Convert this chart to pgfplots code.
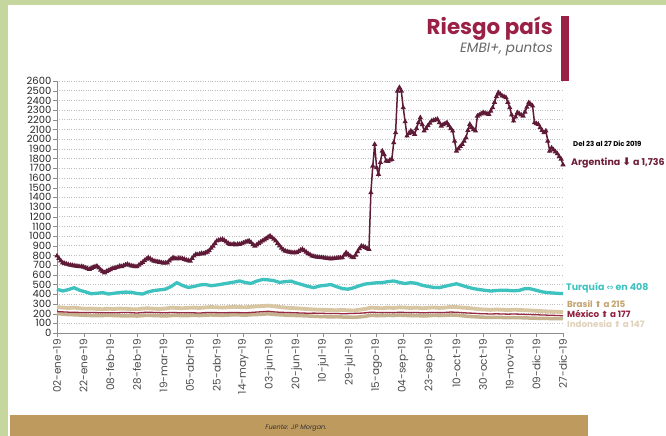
\documentclass[border=0pt]{standalone}
\usepackage{fontspec}
\setmainfont{Poppins}
\newfontfamily\symfont{DejaVu Sans}
\usepackage{pgfplots}
\pgfplotsset{compat=1.18}
\definecolor{bggreen}{HTML}{C5D79E}
\definecolor{tanbar}{HTML}{BE9A5E}
\definecolor{titlered}{HTML}{9A2145}
\definecolor{argc}{HTML}{5E1A36}
\definecolor{turc}{HTML}{3EC2C0}
\definecolor{brac}{HTML}{D8C5A2}
\definecolor{mexc}{HTML}{962A40}
\definecolor{indc}{HTML}{C6B18F}
\definecolor{bralab}{HTML}{C3A36F}
\definecolor{indlab}{HTML}{E0D2BA}
\definecolor{mexlab}{HTML}{8E1F3D}
\definecolor{arglab}{HTML}{6E1D3A}
\begin{document}
\begin{tikzpicture}[x=1bp,y=1bp, lab/.style={anchor=base west, inner sep=0, text height=6.3bp, text depth=1bp, font=\bfseries\fontsize{8.8}{9}\selectfont}]
\useasboundingbox (0,0) rectangle (666,436);
\clip (0,0) rectangle (666,436);
\fill[bggreen] (0,0) rectangle (666,436);
\fill[white] (8,0) rectangle (666,431);
\fill[tanbar] (10,0) rectangle (588,21);
\node[font=\itshape\fontsize{6.5}{7}\selectfont, text=black!80] at (296,8) {Fuente: JP Morgan.};
\fill[titlered] (560.5,355) rectangle (569,420);
\node[anchor=base east, inner sep=0, font=\bfseries\fontsize{21.5}{24}\selectfont, text=titlered] at (553,401) {Riesgo país};
\node[anchor=base east, inner sep=0, font=\itshape\fontsize{13.5}{15}\selectfont, text=black!60] at (553,383) {EMBI+, puntos};
\begin{axis}[
  at={(57bp,103bp)}, anchor=origin,
  scale only axis, width=506bp, height=252bp,
  xmin=0, xmax=266, ymin=0, ymax=2600,
  axis x line*=bottom, axis y line*=left,
  axis line style={-, draw=black!45},
  tick style={draw=black!45},
  tick align=outside, major tick length=4bp,
  ytick={0,100,...,2600},
  xtick={0,14,...,266},
  xticklabels={02-ene-19,22-ene-19,08-feb-19,28-feb-19,19-mar-19,05-abr-19,25-abr-19,14-may-19,03-jun-19,20-jun-19,10-jul-19,29-jul-19,15-ago-19,04-sep-19,23-sep-19,10-oct-19,30-oct-19,19-nov-19,09-dic-19,27-dic-19},
  x tick label style={rotate=90, anchor=east, font=\fontsize{10.5}{11}\selectfont, text=black!70, inner sep=2bp},
  y tick label style={font=\fontsize{10}{10}\selectfont, text=black!85, inner sep=1.5bp},
  /pgf/number format/assume math mode=true,
  /pgf/number format/1000 sep={},
  ymajorgrids, grid style={dotted, draw=black!25, line width=0.6pt},
  clip=false,
]
\addplot[turc, line width=3.3bp] coordinates {
(0,452)(3,433)(6,448)(9,467)(12,440)(15,424)(18,405)(21,410)(24,416)(27,402)(30,410)(33,418)(36,422)(39,420)(42,408)(45,402)(48,425)(51,438)(54,445)(57,452)(60,480)(63,519)(66,490)(69,470)(72,480)(75,495)(78,500)(81,488)(84,495)(87,505)(90,515)(93,525)(96,537)(99,520)(102,512)(105,535)(108,552)(111,548)(114,540)(117,522)(120,530)(123,535)(126,515)(129,498)(132,480)(135,468)(138,485)(141,492)(144,500)(147,478)(150,458)(153,452)(156,467)(159,488)(162,505)(165,512)(168,518)(171,520)(174,530)(177,537)(180,522)(183,510)(186,520)(189,512)(192,492)(195,480)(198,470)(201,468)(204,482)(207,495)(210,508)(213,490)(216,472)(219,458)(222,448)(225,440)(228,433)(231,438)(234,442)(237,440)(240,435)(243,440)(246,458)(249,455)(252,440)(255,425)(258,416)(261,412)(264,408)(266,408)};
\addplot[brac, line width=3.8bp] coordinates {
(0,268)(3,262)(6,258)(9,262)(12,255)(15,250)(18,252)(21,248)(24,245)(27,250)(30,248)(33,252)(36,250)(39,246)(42,244)(45,252)(48,255)(51,250)(54,248)(57,252)(60,262)(63,258)(66,255)(69,260)(72,262)(75,258)(78,264)(81,268)(84,265)(87,262)(90,266)(93,270)(96,268)(99,265)(102,270)(105,275)(108,278)(111,282)(114,276)(117,268)(120,262)(123,258)(126,255)(129,250)(132,246)(135,242)(138,240)(141,238)(144,236)(147,235)(150,238)(153,234)(156,232)(159,240)(162,248)(165,262)(168,258)(171,255)(174,262)(177,258)(180,265)(183,262)(186,258)(189,262)(192,255)(195,260)(198,264)(201,258)(204,262)(207,270)(210,268)(213,262)(216,258)(219,252)(222,245)(225,242)(228,238)(231,242)(234,240)(237,236)(240,240)(243,238)(246,235)(249,232)(252,228)(255,225)(258,222)(261,220)(264,218)(266,215)};
\addplot[indc, line width=3.5bp] coordinates {
(0,200)(3,195)(6,190)(9,188)(12,185)(15,182)(18,180)(21,178)(24,180)(27,182)(30,180)(33,178)(36,176)(39,178)(42,175)(45,180)(48,182)(51,180)(54,178)(57,176)(60,180)(63,182)(66,178)(69,180)(72,182)(75,180)(78,184)(81,186)(84,184)(87,182)(90,185)(93,188)(96,186)(99,184)(102,188)(105,190)(108,194)(111,198)(114,192)(117,188)(120,185)(123,182)(126,180)(129,178)(132,176)(135,172)(138,170)(141,168)(144,166)(147,168)(150,165)(153,164)(156,162)(159,166)(162,172)(165,182)(168,180)(171,178)(174,182)(177,180)(180,184)(183,182)(186,178)(189,180)(192,176)(195,178)(198,182)(201,180)(204,182)(207,186)(210,184)(213,178)(216,172)(219,168)(222,165)(225,162)(228,160)(231,162)(234,160)(237,158)(240,160)(243,158)(246,156)(249,154)(252,152)(255,150)(258,150)(261,148)(264,148)(266,147)};
\addplot[mexc, line width=1.3bp] coordinates {
(0,222)(3,218)(6,215)(9,214)(12,212)(15,210)(18,212)(21,210)(24,208)(27,210)(30,208)(33,210)(36,212)(39,210)(42,206)(45,212)(48,214)(51,212)(54,210)(57,208)(60,212)(63,210)(66,208)(69,210)(72,208)(75,206)(78,210)(81,212)(84,210)(87,208)(90,210)(93,212)(96,210)(99,208)(102,212)(105,216)(108,220)(111,224)(114,218)(117,214)(120,212)(123,210)(126,208)(129,206)(132,204)(135,205)(138,204)(141,202)(144,200)(147,202)(150,198)(153,200)(156,202)(159,204)(162,208)(165,215)(168,212)(171,210)(174,212)(177,210)(180,214)(183,212)(186,210)(189,212)(192,208)(195,210)(198,212)(201,210)(204,212)(207,216)(210,214)(213,210)(216,206)(219,204)(222,200)(225,198)(228,196)(231,198)(234,196)(237,194)(240,196)(243,194)(246,192)(249,190)(252,188)(255,186)(258,184)(261,182)(264,180)(266,177)};
\addplot[argc, line width=1.5bp, mark=triangle*, mark size=1.6bp, mark options={solid}] coordinates {
(0,795)(1,770)(2,745)(3,725)(4,718)(5,712)(6,705)(7,700)(8,698)(9,694)(10,690)(11,688)(12,684)(13,686)(14,680)(15,672)(16,665)(17,657)(18,668)(19,678)(20,684)(21,690)(22,672)(23,650)(24,634)(25,622)(26,636)(27,645)(28,654)(29,664)(30,668)(31,674)(32,680)(33,690)(34,686)(35,695)(36,703)(37,709)(38,700)(39,694)(40,690)(41,686)(42,684)(43,700)(44,715)(45,730)(46,748)(47,762)(48,777)(49,765)(50,752)(51,743)(52,738)(53,735)(54,730)(55,726)(56,722)(57,724)(58,725)(59,745)(60,762)(61,777)(62,770)(63,765)(64,772)(65,768)(66,767)(67,760)(68,752)(69,748)(70,743)(71,770)(72,795)(73,812)(74,808)(75,815)(76,822)(77,818)(78,828)(79,836)(80,850)(81,875)(82,898)(83,925)(84,950)(85,958)(86,962)(87,967)(88,955)(89,940)(90,925)(91,915)(92,912)(93,918)(94,910)(95,916)(96,915)(97,922)(98,930)(99,938)(100,945)(101,950)(102,935)(103,912)(104,898)(105,910)(106,925)(107,938)(108,950)(109,962)(110,975)(111,990)(112,1001)(113,985)(114,968)(115,950)(116,925)(117,900)(118,875)(119,858)(120,846)(121,840)(122,835)(123,832)(124,828)(125,830)(126,829)(127,842)(128,855)(129,864)(130,850)(131,835)(132,820)(133,808)(134,795)(135,790)(136,786)(137,782)(138,780)(139,778)(140,777)(141,774)(142,770)(143,768)(144,766)(145,767)(146,770)(147,772)(148,775)(149,776)(150,777)(151,805)(152,829)(153,812)(154,795)(155,782)(156,777)(157,805)(158,840)(159,870)(160,898)(161,892)(162,885)(163,874)(164,864)(165,1448)(166,1723)(167,1947)(168,1706)(169,1638)(170,1760)(171,1878)(172,1840)(173,1775)(174,1770)(175,1785)(176,1792)(177,1964)(178,2067)(179,2497)(180,2533)(181,2497)(182,2325)(183,2180)(184,2033)(185,2060)(186,2085)(187,2070)(188,2050)(189,2110)(190,2170)(191,2222)(192,2150)(193,2085)(194,2110)(195,2140)(196,2165)(197,2188)(198,2195)(199,2200)(200,2205)(201,2170)(202,2136)(203,2150)(204,2160)(205,2170)(206,2140)(207,2110)(208,2085)(209,1980)(210,1878)(211,1900)(212,1925)(213,1947)(214,1980)(215,2015)(216,2090)(217,2154)(218,2120)(219,2100)(220,2085)(221,2239)(222,2250)(223,2262)(224,2274)(225,2268)(226,2262)(227,2257)(228,2290)(229,2325)(230,2380)(231,2440)(232,2480)(233,2465)(234,2446)(235,2438)(236,2429)(237,2380)(238,2325)(239,2250)(240,2188)(241,2230)(242,2274)(243,2262)(244,2250)(245,2239)(246,2280)(247,2330)(248,2377)(249,2360)(250,2343)(251,2170)(252,2160)(253,2154)(254,2120)(255,2090)(256,2067)(257,2085)(258,1980)(259,1878)(260,1910)(261,1890)(262,1870)(263,1850)(264,1820)(265,1795)(266,1736)};
\end{axis}
\node[anchor=base west, inner sep=0, font=\bfseries\fontsize{7}{7}\selectfont, text=black] at (573,289) {Del 23 al 27 Dic 2019};
\node[lab, font=\bfseries\fontsize{9.5}{9}\selectfont, text=arglab] at (571,270) {Argentina {\symfont\fontsize{10.5}{9}\selectfont ⬇} a 1,736};
\node[lab, font=\bfseries\fontsize{9.5}{9}\selectfont, text=turc] at (566,145) {Turquía {\symfont\mdseries\fontsize{8.5}{8}\selectfont ⇔} en 408};
\node[lab, text=bralab] at (567,128) {Brasil {\symfont\fontsize{8.5}{8}\selectfont ⬆} a 215};
\node[lab, text=mexlab] at (567,118.3) {M\'exico {\symfont\fontsize{8.5}{8}\selectfont ⬆} a 177};
\node[lab, text=indlab] at (567,108.6) {Indonesia {\symfont\fontsize{8.5}{8}\selectfont ⬆} a 147};
\end{tikzpicture}
\end{document}
